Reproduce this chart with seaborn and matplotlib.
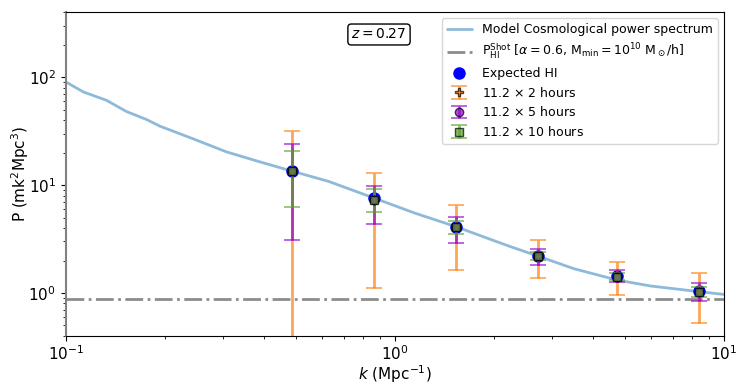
import numpy as np
import pandas as pd
import matplotlib
matplotlib.use("Agg")
import matplotlib.pyplot as plt
import seaborn as sns

# model power spectrum
k_model = [0.10, 0.113, 0.133, 0.153, 0.176, 0.193, 0.244, 0.308, 0.389, 0.486,
           0.63, 0.863, 1.15, 1.54, 1.8, 2.2, 2.72, 3.5, 4.73, 6.0, 8.4, 10.0]
p_model = [90.4, 73.0, 61.0, 48.0, 40.5, 35.2, 26.8, 20.3, 16.4, 13.5,
           10.8, 7.6, 5.5, 4.1, 3.44, 2.75, 2.2, 1.68, 1.32, 1.16, 1.03, 0.97]

shot_noise = 0.88

# k bins and expected HI power
k_bins = [0.486, 0.863, 1.54, 2.72, 4.73, 8.4]
p_expected = [13.5, 7.6, 4.1, 2.2, 1.44, 1.04]

# measured points with lower / upper bounds of the error bars
p_2h = [13.5, 7.2, 4.1, 2.2, 1.42, 1.03]
lo_2h = [0.1, 1.12, 1.62, 1.39, 0.96, 0.53]
hi_2h = [31.8, 13.0, 6.5, 3.1, 1.94, 1.53]

p_5h = [13.5, 7.3, 4.1, 2.2, 1.42, 1.03]
lo_5h = [3.1, 4.36, 2.92, 1.82, 1.26, 0.84]
hi_5h = [24.0, 9.9, 5.1, 2.55, 1.63, 1.24]

p_10h = [13.5, 7.3, 4.1, 2.2, 1.42, 1.03]
lo_10h = [6.3, 5.6, 3.5, 2.02, 1.32, 0.92]
hi_10h = [20.8, 9.1, 4.6, 2.4, 1.53, 1.14]

sns.set_style("ticks", {"axes.edgecolor": "black", "text.color": "black",
                        "axes.labelcolor": "black", "xtick.color": "black",
                        "ytick.color": "black"})
plt.rcParams["font.family"] = ["DejaVu Sans"]
plt.rcParams["mathtext.fontset"] = "dejavusans"

fig, ax = plt.subplots(figsize=(7.47, 3.92), dpi=100)
fig.subplots_adjust(left=0.088, right=0.969, top=0.969, bottom=0.143)

model_df = pd.DataFrame({"k": k_model, "P": p_model})
sns.lineplot(data=model_df, x="k", y="P", ax=ax, color="tab:blue", alpha=0.5,
             lw=2, label="Model Cosmological power spectrum")
ax.axhline(shot_noise, color="gray", ls="-.", lw=2, alpha=0.9,
           label=r"P$_{\rm HI}^{\rm Shot}$ [$\alpha=0.6$, M$_{\rm min}=10^{10}$ M$_\odot$/h]")

ax.plot(k_bins, p_expected, "o", color="blue", ms=8, ls="none", label="Expected HI")

series = [
    (p_2h, lo_2h, hi_2h, "tab:orange", "P", r"11.2 $\times$ 2 hours"),
    (p_5h, lo_5h, hi_5h, "darkviolet", "o", r"11.2 $\times$ 5 hours"),
    (p_10h, lo_10h, hi_10h, "#5aa02c", "s", r"11.2 $\times$ 10 hours"),
]
for vals, lo, hi, col, mk, lab in series:
    vals = np.array(vals)
    yerr = [vals - np.array(lo), np.array(hi) - vals]
    ax.errorbar(k_bins, vals, yerr=yerr, fmt=mk, color=col, mec="black",
                ms=6, capsize=6, elinewidth=2, capthick=1.2, alpha=0.7, label=lab)

ax.set_xscale("log")
ax.set_yscale("log")
ax.set_xlim(0.1, 10)
ax.set_ylim(0.4, 400)
ax.set_xlabel(r"$k$ (Mpc$^{-1}$)", fontsize=11, labelpad=0)
ax.set_ylabel(r"P (mk$^2$Mpc$^3$)", fontsize=11, labelpad=-2)
ax.tick_params(labelsize=11)
ax.tick_params(axis="x", pad=2.5)
ax.spines["left"].set_color("gray")
ax.spines["left"].set_linewidth(1.5)

ax.text(0.476, 0.931, r"$z = 0.27$", transform=ax.transAxes, fontsize=10,
        ha="center", va="center",
        bbox=dict(boxstyle="round,pad=0.25", fc="white", ec="black"))

ax.legend(loc="upper right", fontsize=9, framealpha=0.8, handlelength=2.0,
          labelspacing=0.45)

fig.savefig("out.png", dpi=100)
